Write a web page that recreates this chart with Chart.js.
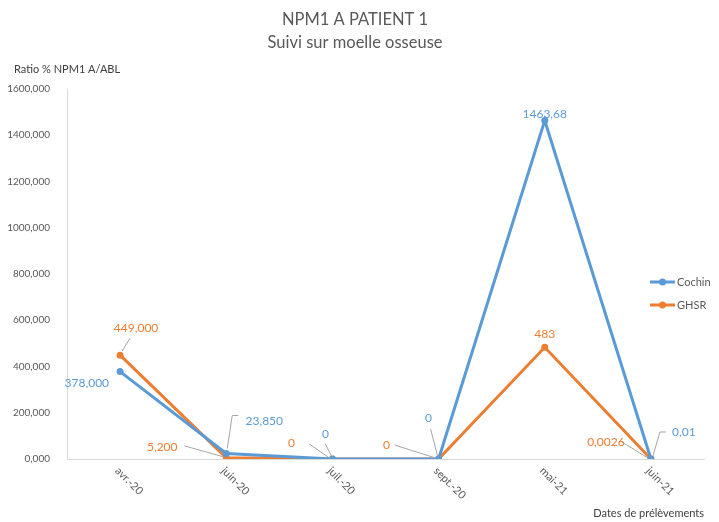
<!DOCTYPE html>
<html>
<head>
<meta charset="utf-8">
<script src="https://cdn.jsdelivr.net/npm/chart.js@4"></script>
<style>
  html, body { margin: 0; padding: 0; background: #fff; }
  #wrap { width: 719px; height: 522px; }
</style>
</head>
<body>
<div id="wrap"><canvas id="chart" width="719" height="522"></canvas></div>
<script>
/* data */
const categories = ['avr.-20', 'juin-20', 'juil.-20', 'sept.-20', 'mai-21', 'juin-21'];
const cochinValues = [378, 23.85, 0, 0, 1463.68, 0.01];
const ghsrValues = [449, 5.2, 0, 0, 483, 0.0026];
const cochinLabels = ['378,000', '23,850', '0', '0', '1463,68', '0,01'];
const ghsrLabels = ['449,000', '5,200', '0', '0', '483', '0,0026'];
const yTicks = [0, 200, 400, 600, 800, 1000, 1200, 1400, 1600];

const FONT = "Lato, 'Open Sans', sans-serif";
const BLUE = '#5B9BD5';
const ORANGE = '#ED7D31';
const GREY_TEXT = '#595959';

/* label placement: offsets from the data point, optional leader line */
const cochinPlace = [
  { dx: -11, dy: 12, align: 'right' },
  { dx: 38, dy: -32, align: 'center', leader: [[1, -5], [6, -38], [12, -38]] },
  { dx: -7, dy: -25, align: 'center', leader: [[-1, -3], [-7, -15]] },
  { dx: -10, dy: -41, align: 'center', leader: [[-1, -3], [-8, -30]] },
  { dx: 0, dy: -6, align: 'center' },
  { dx: 33, dy: -27, align: 'center', leader: [[2, -3], [9, -27], [15, -27]] }
];
const ghsrPlace = [
  { dx: 16, dy: -27, align: 'center', leader: [[2, -4], [10, -17]] },
  { dx: -64, dy: -11, align: 'center', leader: [[-3, -1], [-42, -12]] },
  { dx: -41, dy: -16, align: 'center', leader: [[-3, -1], [-23, -15]] },
  { dx: -52, dy: -14, align: 'center', leader: [[-3, -1], [-44, -14]] },
  { dx: 0, dy: -13, align: 'center' },
  { dx: -45, dy: -17, align: 'center', leader: [[-3, -1], [-29, -17]] }
];

const labelPlugin = {
  id: 'pointLabels',
  afterDatasetsDraw(chart) {
    const ctx = chart.ctx;
    const sets = [
      { meta: chart.getDatasetMeta(0), texts: cochinLabels, place: cochinPlace, color: BLUE },
      { meta: chart.getDatasetMeta(1), texts: ghsrLabels, place: ghsrPlace, color: ORANGE }
    ];
    ctx.save();
    ctx.font = '12px ' + FONT;
    sets.forEach(s => {
      s.meta.data.forEach((pt, i) => {
        const p = s.place[i];
        if (p.leader) {
          ctx.strokeStyle = '#A6A6A6';
          ctx.lineWidth = 1;
          ctx.beginPath();
          p.leader.forEach((q, k) => {
            if (k === 0) ctx.moveTo(pt.x + q[0], pt.y + q[1]);
            else ctx.lineTo(pt.x + q[0], pt.y + q[1]);
          });
          ctx.stroke();
        }
        ctx.fillStyle = s.color;
        ctx.textAlign = p.align;
        ctx.textBaseline = 'middle';
        ctx.fillText(s.texts[i], pt.x + p.dx, pt.y + p.dy);
      });
    });
    ctx.restore();
  }
};

const decorPlugin = {
  id: 'decor',
  afterDraw(chart) {
    const ctx = chart.ctx;
    const xs = chart.scales.x;
    ctx.save();
    // titles
    ctx.fillStyle = GREY_TEXT;
    ctx.textAlign = 'center';
    ctx.textBaseline = 'middle';
    ctx.font = '16.5px ' + FONT;
    ctx.fillText('NPM1 A PATIENT 1', 355, 20);
    ctx.fillText('Suivi sur moelle osseuse', 355, 43);
    // axis titles
    ctx.font = '11px ' + FONT;
    ctx.fillStyle = '#404040';
    ctx.textAlign = 'left';
    ctx.fillText('Ratio % NPM1 A/ABL', 14, 69);
    ctx.textAlign = 'right';
    ctx.fillText('Dates de prélèvements', 704, 513);
    // rotated category labels
    ctx.fillStyle = GREY_TEXT;
    ctx.textAlign = 'left';
    categories.forEach((c, i) => {
      const x = xs.getPixelForTick(i);
      ctx.save();
      ctx.translate(x - 3, xs.top + 10);
      ctx.rotate(Math.PI / 4);
      ctx.fillText(c, 0, 0);
      ctx.restore();
    });
    // legend
    chart.data.datasets.forEach((ds, i) => {
      const y = 282 + i * 23;
      ctx.strokeStyle = ds.borderColor;
      ctx.lineWidth = 3;
      ctx.beginPath();
      ctx.moveTo(650, y);
      ctx.lineTo(675, y);
      ctx.stroke();
      ctx.fillStyle = ds.borderColor;
      ctx.beginPath();
      ctx.arc(662.5, y, 3.5, 0, Math.PI * 2);
      ctx.fill();
      ctx.fillStyle = GREY_TEXT;
      ctx.textAlign = 'left';
      ctx.font = '11px ' + FONT;
      ctx.fillText(ds.label, 677, y);
    });
    ctx.restore();
  }
};

new Chart(document.getElementById('chart').getContext('2d'), {
  type: 'line',
  data: {
    labels: categories,
    datasets: [{
      label: 'Cochin',
      data: cochinValues,
      borderColor: BLUE,
      backgroundColor: BLUE,
      borderWidth: 3,
      pointRadius: 3.5,
      pointBorderWidth: 0,
      tension: 0
    }, {
      label: 'GHSR',
      data: ghsrValues,
      borderColor: ORANGE,
      backgroundColor: ORANGE,
      borderWidth: 3,
      pointRadius: 3.5,
      pointBorderWidth: 0,
      tension: 0
    }]
  },
  options: {
    responsive: false,
    animation: false,
    layout: { padding: { top: 89, right: 15, left: 0, bottom: 0 } },
    scales: {
      x: {
        offset: true,
        grid: { display: false, drawTicks: false },
        border: { color: '#D9D9D9', width: 1 },
        ticks: { display: false },
        afterFit: s => { s.height = 63; }
      },
      y: {
        min: 0,
        max: 1600,
        afterBuildTicks: s => { s.ticks = yTicks.map(v => ({ value: v })); },
        grid: { display: false },
        border: { color: '#D9D9D9', width: 1 },
        ticks: {
          color: GREY_TEXT,
          font: { family: FONT, size: 10 },
          padding: 9,
          callback: v => v.toFixed(3).replace('.', ',')
        },
        afterFit: s => { s.width = 67; }
      }
    },
    plugins: {
      legend: { display: false },
      title: { display: false },
      tooltip: { enabled: false }
    }
  },
  plugins: [labelPlugin, decorPlugin]
});
</script>
</body>
</html>
